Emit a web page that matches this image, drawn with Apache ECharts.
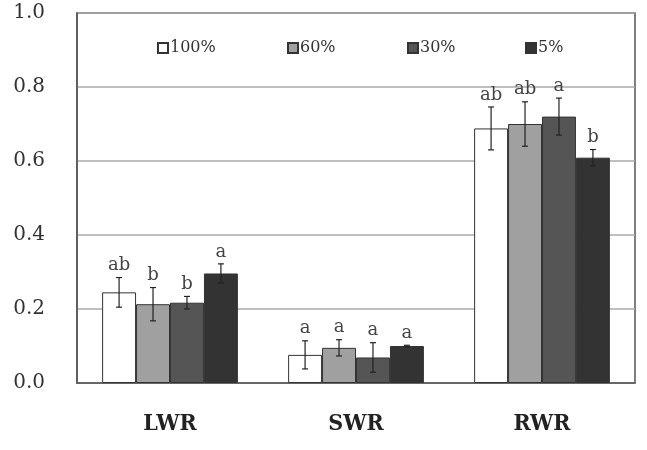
<!DOCTYPE html>
<html style="height: 100%">
<head>
    <meta charset="utf-8">
    <title>LWR SWR RWR</title>
    <script src="https://cdn.jsdelivr.net/npm/echarts@6/dist/echarts.min.js"></script>
</head>
<body style="height: 100%; margin: 0; background: #fff">
    <div id="main" style="width: 647px; height: 450px"></div>
    <script>
        // 类别和各处理组数据
        var categories = ['LWR', 'SWR', 'RWR'];
        var groups = ['100%', '60%', '30%', '5%'];
        var colors = ['#ffffff', '#a0a0a0', '#555555', '#333333'];

        var val100 = [0.245, 0.076, 0.688];
        var val60 = [0.213, 0.095, 0.700];
        var val30 = [0.217, 0.069, 0.720];
        var val5 = [0.296, 0.100, 0.609];

        var err100 = [0.040, 0.038, 0.058];
        var err60 = [0.045, 0.022, 0.060];
        var err30 = [0.017, 0.040, 0.050];
        var err5 = [0.026, 0.002, 0.022];

        var let100 = ['ab', 'a', 'ab'];
        var let60 = ['b', 'a', 'ab'];
        var let30 = ['b', 'a', 'a'];
        var let5 = ['a', 'a', 'b'];

        var yTicks = [0, 0.2, 0.4, 0.6, 0.8, 1.0];

        var values = [val100, val60, val30, val5];
        var errors = [err100, err60, err30, err5];
        var letters = [let100, let60, let30, let5];

        var serif = 'DejaVu Serif, serif';
        var catGap = 0.27; // 与 barCategoryGap 对应
        var legendLeft = [152, 282, 402, 520];

        var dom = document.getElementById('main');
        var myChart = echarts.init(dom);

        var series = [];
        groups.forEach(function (name, i) {
            series.push({
                name: name,
                type: 'bar',
                barGap: 0,
                barCategoryGap: (catGap * 100) + '%',
                itemStyle: { color: colors[i], borderColor: '#333', borderWidth: 1 },
                data: values[i]
            });
        });

        // 误差线 + 显著性字母
        groups.forEach(function (name, i) {
            series.push({
                type: 'custom',
                silent: true,
                z: 10,
                data: values[i].map(function (v, k) {
                    return [k, v, errors[i][k]];
                }),
                renderItem: function (params, api) {
                    var k = api.value(0);
                    var mean = api.value(1);
                    var e = api.value(2);
                    var band = api.size([1, 0])[0];
                    var groupW = band * (1 - catGap);
                    var barW = groupW / groups.length;
                    var off = -groupW / 2 + (i + 0.5) * barW;
                    var top = api.coord([k, mean + e]);
                    var bot = api.coord([k, mean - e]);
                    var x = top[0] + off;
                    var cap = 3;
                    var st = { stroke: '#222', lineWidth: 1.2 };
                    return {
                        type: 'group',
                        children: [
                            { type: 'line', shape: { x1: x, y1: top[1], x2: x, y2: bot[1] }, style: st },
                            { type: 'line', shape: { x1: x - cap, y1: top[1], x2: x + cap, y2: top[1] }, style: st },
                            { type: 'line', shape: { x1: x - cap, y1: bot[1], x2: x + cap, y2: bot[1] }, style: st },
                            {
                                type: 'text',
                                style: {
                                    x: x, y: top[1] - 3,
                                    text: letters[i][k],
                                    textAlign: 'center', textVerticalAlign: 'bottom',
                                    fill: '#444', font: '18px ' + serif
                                }
                            }
                        ]
                    };
                }
            });
        });

        // 每个图例单独定位
        var legends = groups.map(function (g, i) {
            return {
                data: [g],
                top: 35, left: legendLeft[i],
                icon: 'rect', itemWidth: 10, itemHeight: 10, itemGap: 0,
                textStyle: { fontFamily: serif, fontSize: 16, color: '#333', padding: [0, 0, 0, -3] }
            };
        });

        myChart.setOption({
            animation: false,
            backgroundColor: '#fff',
            grid: {
                left: 77, right: 12, top: 13, bottom: 67,
                show: true, borderColor: '#555', borderWidth: 1.5
            },
            legend: legends,
            xAxis: {
                type: 'category',
                data: categories,
                axisLine: { lineStyle: { color: '#555', width: 1.5 } },
                axisTick: { inside: true, length: 6, lineStyle: { color: '#555' } },
                axisLabel: {
                    margin: 30, color: '#222', fontSize: 23, fontWeight: 'bold',
                    fontFamily: 'DejaVu Serif Condensed, Liberation Serif, serif'
                }
            },
            yAxis: {
                type: 'value',
                min: yTicks[0], max: yTicks[yTicks.length - 1], interval: 0.2,
                axisLine: { show: true, lineStyle: { color: '#555', width: 1.5 } },
                axisTick: { show: false },
                splitLine: { lineStyle: { color: '#aaa', width: 1.5 } },
                axisLabel: {
                    margin: 32, color: '#333', fontSize: 20, fontFamily: serif,
                    formatter: function (v) { return v.toFixed(1); }
                }
            },
            series: series
        });
    </script>
</body>
</html>
